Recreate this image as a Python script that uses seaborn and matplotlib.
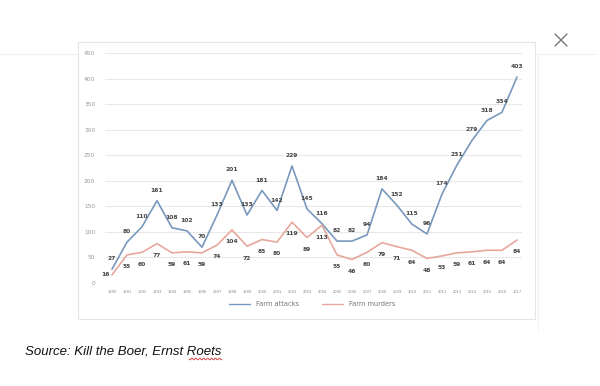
import numpy as np
import pandas as pd
import matplotlib
matplotlib.use("Agg")
import matplotlib.pyplot as plt
from matplotlib.patches import Rectangle
from matplotlib.lines import Line2D
import seaborn as sns

years = list(range(1990, 2018))
farm_attacks = [27, 80, 110, 161, 108, 102, 70, 133, 201, 133, 181, 142, 229, 145,
                116, 82, 82, 94, 184, 152, 115, 96, 174, 231, 279, 318, 334, 403]
farm_murders = [16, 55, 60, 77, 59, 61, 59, 74, 104, 72, 85, 80, 119, 89,
                113, 55, 46, 60, 79, 71, 64, 48, 53, 59, 61, 64, 64, 84]
y_ticks = [0, 50, 100, 150, 200, 250, 300, 350, 400, 450]

df = pd.DataFrame({
    "year": years * 2,
    "value": farm_attacks + farm_murders,
    "series": ["Farm attacks"] * len(years) + ["Farm murders"] * len(years),
})

sns.set_style("white")
plt.rcParams['font.family'] = ['DejaVu Sans']

W, H = 600, 386
fig = plt.figure(figsize=(6, 3.86), dpi=100)

def fx(px):
    return px / W

def fy(py):
    return 1 - py / H

# chart card border
fig.patches.append(Rectangle((fx(78), fy(319)), fx(535) - fx(78), fy(42) - fy(319),
                             transform=fig.transFigure, fill=False,
                             edgecolor="#e4e4e4", linewidth=0.8))
# faint window lines
fig.lines.append(Line2D([fx(0), fx(78)], [fy(54), fy(54)], transform=fig.transFigure,
                        color="#eeeeee", linewidth=0.8))
fig.lines.append(Line2D([fx(535), fx(595)], [fy(54), fy(54)], transform=fig.transFigure,
                        color="#eeeeee", linewidth=0.8))
fig.lines.append(Line2D([fx(538), fx(538)], [fy(54), fy(330)], transform=fig.transFigure,
                        color="#f2f2f2", linewidth=0.8))

# close icon
for (a, b), (c, d) in [((555, 34), (567, 46)), ((555, 46), (567, 34))]:
    fig.lines.append(Line2D([fx(a), fx(c)], [fy(b), fy(d)], transform=fig.transFigure,
                            color="#777777", linewidth=1.0))

ax = fig.add_axes([fx(105), fy(283), fx(522) - fx(105), fy(53) - fy(283)])

palette = {"Farm attacks": "#7898bd", "Farm murders": "#e6a79c"}
sns.lineplot(data=df, x="year", y="value", hue="series", palette=palette,
             linewidth=1.2, ax=ax, legend=False)

ax.set_xlim(1990 - 7 / 15, 2017 + 5 / 15)
ax.set_ylim(0, 450)
ax.set_yticks(y_ticks)
ax.set_xticks(years)
ax.set_xticklabels([str(y) for y in years], fontsize=2.6, color="#888888")
ax.set_yticklabels([str(t) for t in y_ticks], fontsize=4.2, color="#999999")
ax.tick_params(length=0, pad=5)
ax.tick_params(axis="y", pad=7)
for t in y_ticks[1:]:
    ax.axhline(t, color="#e8e8e8", linewidth=0.8, zorder=0)
for s in ax.spines.values():
    s.set_visible(False)
ax.set_xlabel("")
ax.set_ylabel("")

for yr, v in zip(years, farm_attacks):
    ax.annotate(str(v), (yr, v), xytext=(0, 7.5), textcoords="offset points",
                ha="center", va="center", fontsize=4.3, fontweight="bold", color="#444444")
for yr, v in zip(years, farm_murders):
    dx = -5 if yr == 1990 else 0
    dy = 0 if yr == 1990 else -8.5
    ax.annotate(str(v), (yr, v), xytext=(dx, dy), textcoords="offset points",
                ha="center", va="center", fontsize=4.3, fontweight="bold", color="#444444")

# legend
handles = [Line2D([], [], color=palette[k], linewidth=1.0) for k in palette]
fig.legend(handles, list(palette), loc="center", bbox_to_anchor=(fx(312), fy(304)),
           ncol=2, frameon=False, fontsize=4.8, handlelength=3.2, columnspacing=3.5,
           labelcolor="#777777")

# source note
fig.text(fx(25), fy(352), "Source: Kill the Boer, Ernst Roets", fontsize=9.5,
         style="italic", family="Liberation Sans", color="#111111", va="center", ha="left")
wx = np.linspace(189, 222, 60)
wy = 359 + 0.9 * np.sin((wx - 189) * 1.6)
fig.lines.append(Line2D(fx(wx), fy(wy), transform=fig.transFigure,
                        color="#d03030", linewidth=0.6))

fig.savefig("out.png", dpi=100)
